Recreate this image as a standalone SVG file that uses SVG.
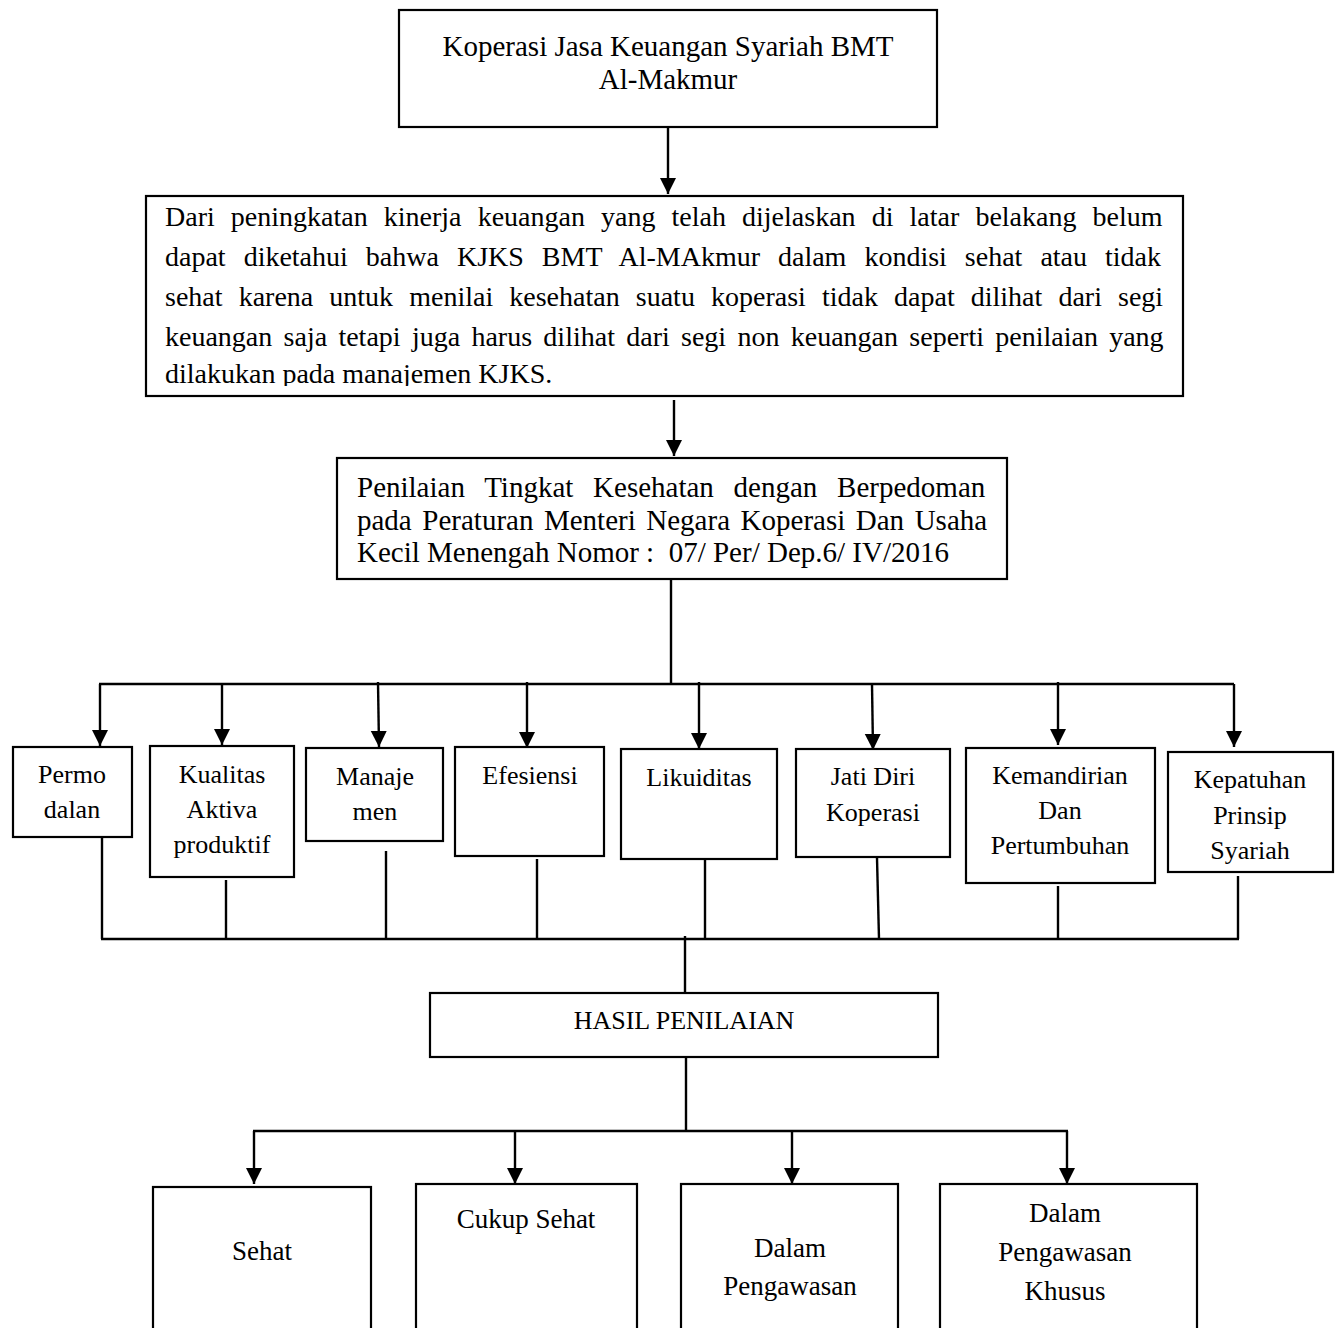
<svg xmlns="http://www.w3.org/2000/svg" width="1337" height="1328" viewBox="0 0 1337 1328">
<style>
.box{fill:#fff;stroke:#000;stroke-width:2.2}
.ln{fill:none;stroke:#000;stroke-width:2.4}
.t{font-family:"Liberation Serif","Times New Roman",serif;fill:#000}
.c{text-anchor:middle}
.s29{font-size:29px}
.s28{font-size:28px}
.s26{font-size:26px}
.s27{font-size:27px}
</style>
<defs>
<marker id="ah" markerUnits="userSpaceOnUse" markerWidth="18" markerHeight="18" refX="16" refY="8" orient="auto">
<path d="M0,0 L16,8 L0,16 z" fill="#000"/>
</marker>
<clipPath id="clipP"><rect x="146" y="196" width="1040" height="190"/></clipPath>
</defs>
<rect width="1337" height="1328" fill="#fff"/>
<g id="connectors">
<line class="ln" x1="668" y1="127" x2="668" y2="194" marker-end="url(#ah)"/>
<line class="ln" x1="674" y1="400" x2="674" y2="456" marker-end="url(#ah)"/>
<line class="ln" x1="671" y1="579" x2="671" y2="684"/>
<line class="ln" x1="99" y1="684" x2="1234" y2="684"/>
<line class="ln" x1="100" y1="684" x2="100" y2="746" marker-end="url(#ah)"/>
<line class="ln" x1="222" y1="684" x2="222" y2="745" marker-end="url(#ah)"/>
<line class="ln" x1="378" y1="682" x2="379" y2="747" marker-end="url(#ah)"/>
<line class="ln" x1="527" y1="682" x2="527" y2="748" marker-end="url(#ah)"/>
<line class="ln" x1="699" y1="682" x2="699" y2="749" marker-end="url(#ah)"/>
<line class="ln" x1="872" y1="684" x2="873" y2="750" marker-end="url(#ah)"/>
<line class="ln" x1="1058" y1="682" x2="1058" y2="745" marker-end="url(#ah)"/>
<line class="ln" x1="1234" y1="684" x2="1234" y2="747" marker-end="url(#ah)"/>
<line class="ln" x1="102" y1="837" x2="102" y2="939"/>
<line class="ln" x1="226" y1="880" x2="226" y2="939"/>
<line class="ln" x1="386" y1="851" x2="386" y2="939"/>
<line class="ln" x1="537" y1="859" x2="537" y2="939"/>
<line class="ln" x1="705" y1="859" x2="705" y2="939"/>
<line class="ln" x1="877" y1="858" x2="879" y2="939"/>
<line class="ln" x1="1058" y1="886" x2="1058" y2="939"/>
<line class="ln" x1="1238" y1="876" x2="1238" y2="939"/>
<line class="ln" x1="101" y1="939" x2="1239" y2="939"/>
<line class="ln" x1="685" y1="936" x2="685" y2="993"/>
<line class="ln" x1="686" y1="1057" x2="686" y2="1131"/>
<line class="ln" x1="253" y1="1131" x2="1068" y2="1131"/>
<line class="ln" x1="254" y1="1131" x2="254" y2="1184" marker-end="url(#ah)"/>
<line class="ln" x1="515" y1="1131" x2="515" y2="1184" marker-end="url(#ah)"/>
<line class="ln" x1="792" y1="1131" x2="792" y2="1184" marker-end="url(#ah)"/>
<line class="ln" x1="1067" y1="1131" x2="1067" y2="1184" marker-end="url(#ah)"/>
</g>
<g id="n-kjks">
<rect class="box" x="399" y="10" width="538" height="117"/>
<text class="t c s29" x="668" y="56">Koperasi Jasa Keuangan Syariah BMT</text>
<text class="t c s29" x="668" y="89">Al-Makmur</text>
</g>
<g id="n-latar">
<rect class="box" x="146" y="196" width="1037" height="200"/>
<g clip-path="url(#clipP)">
<text class="t s28" x="165" y="226" word-spacing="9.1">Dari peningkatan kinerja keuangan yang telah dijelaskan di latar belakang belum</text>
<text class="t s28" x="165" y="266" word-spacing="11">dapat diketahui bahwa KJKS BMT Al-MAkmur dalam kondisi sehat atau tidak</text>
<text class="t s28" x="165" y="306" word-spacing="9.1">sehat karena untuk menilai kesehatan suatu koperasi tidak dapat dilihat dari segi</text>
<text class="t s28" x="165" y="346" word-spacing="4.3">keuangan saja tetapi juga harus dilihat dari segi non keuangan seperti penilaian yang</text>
<text class="t s28" x="165" y="383">dilakukan pada manajemen KJKS.</text>
</g>
</g>
<g id="n-penilaian">
<rect class="box" x="337" y="458" width="670" height="121"/>
<text class="t s29" x="357" y="497" word-spacing="12.5">Penilaian Tingkat Kesehatan dengan Berpedoman</text>
<text class="t s29" x="357" y="530" word-spacing="3.3">pada Peraturan Menteri Negara Koperasi Dan Usaha</text>
<text class="t s29" x="357" y="562" xml:space="preserve">Kecil Menengah Nomor :  07/ Per/ Dep.6/ IV/2016</text>
</g>
<g id="n-permodalan">
<rect class="box" x="13" y="747" width="119" height="90"/>
<text class="t c s26" x="72" y="783">Permo</text>
<text class="t c s26" x="72" y="818">dalan</text>
</g>
<g id="n-kualitas">
<rect class="box" x="150" y="746" width="144" height="131"/>
<text class="t c s26" x="222" y="783">Kualitas</text>
<text class="t c s26" x="222" y="818">Aktiva</text>
<text class="t c s26" x="222" y="853">produktif</text>
</g>
<g id="n-manajemen">
<rect class="box" x="306" y="748" width="137" height="93"/>
<text class="t c s26" x="375" y="785">Manaje</text>
<text class="t c s26" x="375" y="820">men</text>
</g>
<g id="n-efesiensi">
<rect class="box" x="455" y="747" width="149" height="109"/>
<text class="t c s26" x="530" y="784">Efesiensi</text>
</g>
<g id="n-likuiditas">
<rect class="box" x="621" y="749" width="156" height="110"/>
<text class="t c s26" x="699" y="786">Likuiditas</text>
</g>
<g id="n-jatidiri">
<rect class="box" x="796" y="749" width="154" height="108"/>
<text class="t c s26" x="873" y="785">Jati Diri</text>
<text class="t c s26" x="873" y="821">Koperasi</text>
</g>
<g id="n-kemandirian">
<rect class="box" x="966" y="748" width="189" height="135"/>
<text class="t c s26" x="1060" y="784">Kemandirian</text>
<text class="t c s26" x="1060" y="819">Dan</text>
<text class="t c s26" x="1060" y="854">Pertumbuhan</text>
</g>
<g id="n-kepatuhan">
<rect class="box" x="1168" y="752" width="165" height="120"/>
<text class="t c s26" x="1250" y="788">Kepatuhan</text>
<text class="t c s26" x="1250" y="824">Prinsip</text>
<text class="t c s26" x="1250" y="859">Syariah</text>
</g>
<g id="n-hasil">
<rect class="box" x="430" y="993" width="508" height="64"/>
<text class="t c s26" x="684" y="1029">HASIL PENILAIAN</text>
</g>
<g id="n-sehat">
<rect class="box" x="153" y="1187" width="218" height="160"/>
<text class="t c s27" x="262" y="1260">Sehat</text>
</g>
<g id="n-cukup">
<rect class="box" x="416" y="1184" width="221" height="160"/>
<text class="t c s27" x="526" y="1228">Cukup Sehat</text>
</g>
<g id="n-dalam">
<rect class="box" x="681" y="1184" width="217" height="160"/>
<text class="t c s27" x="790" y="1257">Dalam</text>
<text class="t c s27" x="790" y="1295">Pengawasan</text>
</g>
<g id="n-khusus">
<rect class="box" x="940" y="1184" width="257" height="160"/>
<text class="t c s27" x="1065" y="1222">Dalam</text>
<text class="t c s27" x="1065" y="1261">Pengawasan</text>
<text class="t c s27" x="1065" y="1300">Khusus</text>
</g>
</svg>
